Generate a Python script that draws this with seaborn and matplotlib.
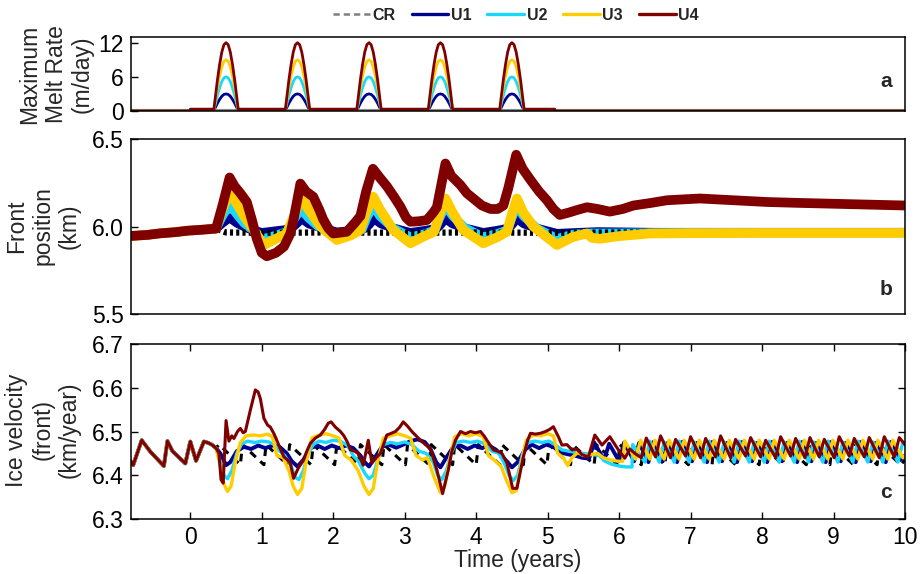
import matplotlib
matplotlib.use("Agg")
import matplotlib.pyplot as plt
from matplotlib.lines import Line2D
import seaborn as sns
import pandas as pd

sns.set_theme(style="white")
plt.rcParams['font.family'] = ['Liberation Sans', 'DejaVu Sans']

# ---------------- data ----------------
series_names = ["CR", "U1", "U2", "U3", "U4"]
series_colors = {"CR": "#808080", "U1": "#00008F", "U2": "#19D8FF", "U3": "#FFCC00", "U4": "#800000"}

# panel a: maximum melt rate (m/day)
hump_years = [0.5, 1.5, 2.5, 3.5, 4.5]
hump_offsets = [-0.17, -0.15, -0.12, -0.09, -0.06, -0.03, 0.0, 0.03, 0.06, 0.09, 0.12, 0.15, 0.17]
hump_shape = [0.0, 0.2, 0.46, 0.68, 0.86, 0.97, 1.0, 0.97, 0.86, 0.68, 0.46, 0.2, 0.0]
melt_peaks = {"U1": 3, "U2": 6, "U3": 9, "U4": 12}
melt_base_period = [0.0, 5.1]
melt_base_level = 0.3

# panel b: front position (km) -- shared spin-up then each run
b_pre = [(-0.83, 5.946), (-0.60, 5.952), (-0.42, 5.961), (-0.20, 5.968), (-0.04, 5.976), (0.15, 5.981), (0.36, 5.988)]
b_cr = [(0.5, 5.966), (1.0, 5.964), (2.0, 5.966), (3.0, 5.964), (4.0, 5.966), (5.0, 5.964), (6.0, 5.966), (10.0, 5.966)]
b_u1 = [(0.45, 6.02), (0.55, 6.05), (0.65, 6.02), (0.8, 5.99), (1.0, 5.965), (1.2, 5.975), (1.4, 5.985), (1.47, 6.01),
        (1.56, 6.045), (1.66, 6.015), (1.85, 5.99), (2.05, 5.968), (2.3, 5.978), (2.45, 5.99), (2.5, 6.01), (2.57, 6.045),
        (2.67, 6.015), (2.85, 5.99), (3.08, 5.965), (3.3, 5.978), (3.45, 5.99), (3.5, 6.01), (3.57, 6.045), (3.67, 6.015),
        (3.85, 5.99), (4.1, 5.965), (4.3, 5.978), (4.45, 5.99), (4.5, 6.01), (4.57, 6.045), (4.67, 6.015), (4.85, 5.99),
        (5.13, 5.96), (5.4, 5.965), (5.7, 5.97), (6.5, 5.966), (10.0, 5.966)]
b_u2 = [(0.45, 6.06), (0.55, 6.125), (0.65, 6.07), (0.75, 6.02), (0.9, 5.97), (1.03, 5.93), (1.2, 5.95), (1.35, 5.97),
        (1.45, 6.04), (1.55, 6.10), (1.65, 6.05), (1.82, 5.99), (2.05, 5.945), (2.25, 5.96), (2.4, 5.98), (2.47, 6.05),
        (2.56, 6.12), (2.65, 6.06), (2.84, 5.99), (3.08, 5.94), (3.3, 5.96), (3.42, 5.98), (3.49, 6.05), (3.57, 6.12),
        (3.67, 6.06), (3.85, 5.99), (4.1, 5.94), (4.3, 5.96), (4.44, 5.98), (4.5, 6.05), (4.57, 6.12), (4.66, 6.06),
        (4.85, 5.99), (5.13, 5.93), (5.35, 5.955), (5.6, 5.962), (6.0, 5.962), (7.0, 5.964), (10.0, 5.964)]
b_u3 = [(0.45, 6.10), (0.56, 6.20), (0.65, 6.13), (0.75, 6.06), (0.885, 5.98), (1.03, 5.894), (1.2, 5.93), (1.35, 5.96),
        (1.45, 6.06), (1.56, 6.17), (1.65, 6.10), (1.82, 6.00), (2.05, 5.923), (2.25, 5.95), (2.38, 5.98), (2.46, 6.08),
        (2.56, 6.17), (2.65, 6.10), (2.84, 5.98), (3.08, 5.904), (3.25, 5.94), (3.41, 5.97), (3.49, 6.07), (3.57, 6.16),
        (3.67, 6.08), (3.82, 5.98), (4.10, 5.904), (4.30, 5.94), (4.43, 5.97), (4.50, 6.07), (4.57, 6.16), (4.66, 6.08),
        (4.80, 6.00), (5.13, 5.894), (5.35, 5.94), (5.55, 5.96), (5.62, 5.935), (5.73, 5.93), (6.0, 5.945), (6.43, 5.96),
        (7.0, 5.962), (8.0, 5.963), (10.0, 5.963)]
b_u4 = [(0.45, 6.12), (0.55, 6.28), (0.62, 6.23), (0.70, 6.19), (0.79, 6.14), (0.86, 6.04), (0.93, 5.93), (1.00, 5.85),
        (1.07, 5.83), (1.20, 5.85), (1.31, 5.885), (1.40, 5.96), (1.445, 6.04), (1.54, 6.245), (1.62, 6.20), (1.72, 6.17),
        (1.80, 6.10), (1.86, 6.04), (1.93, 5.99), (2.00, 5.96), (2.10, 5.965), (2.19, 5.97), (2.30, 6.02), (2.38, 6.06),
        (2.46, 6.20), (2.555, 6.33), (2.65, 6.28), (2.75, 6.23), (2.85, 6.17), (2.94, 6.113), (3.02, 6.05), (3.08, 6.027),
        (3.20, 6.03), (3.31, 6.037), (3.40, 6.08), (3.45, 6.11), (3.57, 6.36), (3.65, 6.29), (3.78, 6.237), (3.87, 6.19),
        (3.96, 6.16), (4.08, 6.12), (4.20, 6.10), (4.30, 6.10), (4.38, 6.12), (4.45, 6.22), (4.56, 6.41), (4.65, 6.33),
        (4.76, 6.266), (4.88, 6.20), (4.99, 6.15), (5.08, 6.10), (5.17, 6.066), (5.30, 6.08), (5.41, 6.094), (5.55, 6.11),
        (5.70, 6.10), (5.87, 6.085), (6.05, 6.10), (6.20, 6.12), (6.45, 6.135), (6.67, 6.15), (6.90, 6.155), (7.13, 6.16),
        (7.60, 6.15), (8.07, 6.14), (8.50, 6.135), (9.00, 6.13), (9.50, 6.125), (10.0, 6.12)]

# panel c: ice velocity at the front (km/year)
c_pre = [(-0.83, 6.432), (-0.80, 6.423), (-0.68, 6.480), (-0.56, 6.454), (-0.37, 6.421), (-0.32, 6.478), (-0.25, 6.455),
         (-0.07, 6.427), (0.00, 6.477), (0.08, 6.433), (0.19, 6.477), (0.25, 6.474), (0.30, 6.470), (0.36, 6.462)]
c_cr = [(0.40, 6.47), (0.70, 6.424), (0.73, 6.47), (1.03, 6.424), (1.06, 6.47), (1.36, 6.424), (1.39, 6.47), (1.69, 6.424),
        (1.72, 6.47), (2.02, 6.424), (2.05, 6.47), (2.35, 6.424), (2.38, 6.47), (2.68, 6.424), (2.71, 6.47), (3.01, 6.424),
        (3.04, 6.47), (3.34, 6.424), (3.37, 6.47), (3.67, 6.424), (3.70, 6.47), (4.00, 6.424), (4.03, 6.47), (4.33, 6.424),
        (4.36, 6.47), (4.66, 6.424), (4.69, 6.47), (4.99, 6.424), (5.02, 6.47), (5.32, 6.424), (5.35, 6.47), (5.65, 6.424),
        (5.68, 6.47), (5.98, 6.424), (6.01, 6.47), (6.31, 6.424), (6.34, 6.47), (6.64, 6.424), (6.67, 6.47), (6.97, 6.424),
        (7.00, 6.47), (7.30, 6.424), (7.33, 6.47), (7.63, 6.424), (7.66, 6.47), (7.96, 6.424), (7.99, 6.47), (8.29, 6.424),
        (8.32, 6.47), (8.62, 6.424), (8.65, 6.47), (8.95, 6.424), (8.98, 6.47), (9.28, 6.424), (9.31, 6.47), (9.61, 6.424),
        (9.64, 6.47), (9.94, 6.424), (10.0, 6.435)]
c_u1 = [(0.42, 6.45), (0.50, 6.423), (0.56, 6.43), (0.65, 6.455), (0.75, 6.465), (0.85, 6.46), (0.95, 6.468), (1.05, 6.462),
        (1.15, 6.468), (1.25, 6.465), (1.35, 6.45), (1.42, 6.432), (1.50, 6.42), (1.58, 6.435), (1.68, 6.462), (1.78, 6.468),
        (1.88, 6.46), (1.98, 6.468), (2.08, 6.462), (2.18, 6.468), (2.28, 6.462), (2.38, 6.445), (2.44, 6.43), (2.50, 6.42),
        (2.58, 6.44), (2.68, 6.465), (2.78, 6.47), (2.88, 6.463), (2.98, 6.47), (3.08, 6.478), (3.18, 6.482), (3.28, 6.476),
        (3.36, 6.46), (3.44, 6.43), (3.50, 6.418), (3.58, 6.44), (3.68, 6.465), (3.78, 6.468), (3.88, 6.46), (3.98, 6.468),
        (4.08, 6.462), (4.18, 6.468), (4.28, 6.458), (4.38, 6.44), (4.44, 6.43), (4.50, 6.418), (4.58, 6.43), (4.68, 6.458),
        (4.78, 6.47), (4.88, 6.462), (4.98, 6.47), (5.08, 6.465), (5.18, 6.452), (5.28, 6.448), (5.38, 6.445), (5.48, 6.44),
        (5.58, 6.438), (5.65, 6.475), (5.79, 6.435), (5.86, 6.472), (6.00, 6.432), (6.07, 6.475), (6.21, 6.432), (6.28, 6.474),
        (6.41, 6.43), (6.48, 6.476), (6.61, 6.432), (6.68, 6.474), (6.81, 6.43), (6.88, 6.476), (7.02, 6.432), (7.09, 6.474),
        (7.23, 6.43), (7.30, 6.476), (7.44, 6.432), (7.51, 6.474), (7.65, 6.43), (7.72, 6.476), (7.86, 6.432), (7.93, 6.474),
        (8.07, 6.43), (8.14, 6.476), (8.28, 6.432), (8.35, 6.474), (8.49, 6.43), (8.56, 6.476), (8.69, 6.432), (8.76, 6.474),
        (8.89, 6.43), (8.96, 6.476), (9.10, 6.432), (9.17, 6.474), (9.31, 6.43), (9.38, 6.476), (9.52, 6.432), (9.59, 6.474),
        (9.73, 6.43), (9.80, 6.476), (9.94, 6.435), (10.0, 6.445)]
c_u2 = [(0.42, 6.43), (0.47, 6.40), (0.52, 6.392), (0.58, 6.41), (0.65, 6.45), (0.72, 6.472), (0.80, 6.478), (0.90, 6.475),
        (1.00, 6.478), (1.10, 6.476), (1.18, 6.47), (1.25, 6.455), (1.32, 6.445), (1.40, 6.425), (1.47, 6.395), (1.52, 6.39),
        (1.58, 6.41), (1.65, 6.45), (1.72, 6.47), (1.80, 6.478), (1.90, 6.475), (2.00, 6.48), (2.10, 6.478), (2.20, 6.468),
        (2.28, 6.445), (2.36, 6.43), (2.44, 6.405), (2.50, 6.392), (2.56, 6.40), (2.63, 6.44), (2.70, 6.47), (2.80, 6.475),
        (2.90, 6.472), (3.00, 6.476), (3.10, 6.47), (3.20, 6.455), (3.30, 6.45), (3.40, 6.43), (3.46, 6.40), (3.52, 6.39),
        (3.58, 6.41), (3.65, 6.45), (3.72, 6.475), (3.82, 6.478), (3.92, 6.475), (4.02, 6.478), (4.12, 6.472), (4.22, 6.455),
        (4.32, 6.45), (4.40, 6.425), (4.46, 6.40), (4.52, 6.388), (4.58, 6.40), (4.65, 6.45), (4.72, 6.475), (4.82, 6.478),
        (4.92, 6.475), (5.02, 6.478), (5.10, 6.47), (5.20, 6.458), (5.30, 6.455), (5.40, 6.452), (5.50, 6.45), (5.60, 6.448),
        (5.72, 6.445), (5.80, 6.432), (5.90, 6.425), (6.00, 6.421), (6.10, 6.419), (6.18, 6.419), (6.19, 6.47), (6.36, 6.43),
        (6.43, 6.478), (6.56, 6.43), (6.63, 6.476), (6.77, 6.43), (6.84, 6.478), (6.98, 6.43), (7.05, 6.476), (7.19, 6.43),
        (7.26, 6.478), (7.40, 6.43), (7.47, 6.476), (7.61, 6.43), (7.68, 6.478), (7.82, 6.43), (7.89, 6.476), (8.03, 6.43),
        (8.10, 6.478), (8.24, 6.43), (8.31, 6.476), (8.45, 6.43), (8.52, 6.478), (8.65, 6.43), (8.72, 6.476), (8.85, 6.43),
        (8.92, 6.478), (9.06, 6.43), (9.13, 6.476), (9.27, 6.43), (9.34, 6.478), (9.48, 6.43), (9.55, 6.476), (9.69, 6.43),
        (9.76, 6.478), (9.90, 6.43), (9.97, 6.476), (10.0, 6.47)]
c_u3 = [(0.42, 6.42), (0.47, 6.38), (0.52, 6.363), (0.57, 6.375), (0.63, 6.43), (0.70, 6.475), (0.78, 6.49), (0.88, 6.492),
        (0.98, 6.49), (1.08, 6.494), (1.15, 6.488), (1.21, 6.445), (1.30, 6.44), (1.38, 6.41), (1.44, 6.375), (1.50, 6.356),
        (1.56, 6.37), (1.62, 6.43), (1.70, 6.485), (1.80, 6.492), (1.90, 6.495), (2.00, 6.49), (2.08, 6.485), (2.16, 6.445),
        (2.25, 6.435), (2.35, 6.41), (2.43, 6.375), (2.50, 6.356), (2.56, 6.37), (2.62, 6.43), (2.70, 6.485), (2.80, 6.49),
        (2.90, 6.495), (3.00, 6.49), (3.08, 6.485), (3.16, 6.445), (3.25, 6.435), (3.32, 6.44), (3.40, 6.40), (3.45, 6.38),
        (3.50, 6.36), (3.56, 6.375), (3.62, 6.43), (3.70, 6.488), (3.80, 6.495), (3.90, 6.49), (4.00, 6.495), (4.10, 6.488),
        (4.17, 6.445), (4.25, 6.435), (4.35, 6.42), (4.42, 6.39), (4.50, 6.36), (4.56, 6.365), (4.62, 6.42), (4.70, 6.48),
        (4.80, 6.492), (4.90, 6.49), (5.00, 6.495), (5.08, 6.49), (5.14, 6.45), (5.22, 6.44), (5.28, 6.422), (5.34, 6.44),
        (5.42, 6.452), (5.50, 6.445), (5.60, 6.447), (5.70, 6.45), (5.78, 6.44), (5.88, 6.435), (5.98, 6.432), (6.05, 6.432),
        (6.08, 6.478), (6.23, 6.437), (6.30, 6.48), (6.43, 6.437), (6.50, 6.48), (6.63, 6.437), (6.70, 6.48), (6.84, 6.437),
        (6.91, 6.48), (7.05, 6.437), (7.12, 6.48), (7.26, 6.437), (7.33, 6.48), (7.47, 6.437), (7.54, 6.48), (7.68, 6.437),
        (7.75, 6.48), (7.89, 6.437), (7.96, 6.48), (8.10, 6.437), (8.17, 6.48), (8.31, 6.437), (8.38, 6.48), (8.52, 6.437),
        (8.59, 6.48), (8.72, 6.437), (8.79, 6.48), (8.92, 6.437), (8.99, 6.48), (9.13, 6.437), (9.20, 6.48), (9.34, 6.437),
        (9.41, 6.48), (9.55, 6.437), (9.62, 6.48), (9.76, 6.437), (9.83, 6.48), (9.97, 6.44), (10.0, 6.445)]
c_u4 = [(0.40, 6.45), (0.43, 6.39), (0.46, 6.382), (0.50, 6.525), (0.54, 6.478), (0.58, 6.49), (0.61, 6.484), (0.66, 6.50),
        (0.70, 6.507), (0.74, 6.497), (0.77, 6.50), (0.84, 6.549), (0.91, 6.595), (0.95, 6.59), (0.98, 6.575), (1.03, 6.53),
        (1.08, 6.515), (1.12, 6.51), (1.17, 6.495), (1.21, 6.48), (1.26, 6.46), (1.31, 6.442), (1.36, 6.435), (1.40, 6.427),
        (1.445, 6.393), (1.51, 6.416), (1.585, 6.435), (1.63, 6.455), (1.68, 6.473), (1.75, 6.485), (1.82, 6.492), (1.88, 6.505),
        (1.93, 6.519), (1.97, 6.522), (2.03, 6.51), (2.10, 6.50), (2.15, 6.49), (2.20, 6.475), (2.24, 6.458), (2.30, 6.455),
        (2.35, 6.45), (2.42, 6.423), (2.49, 6.48), (2.54, 6.428), (2.60, 6.44), (2.66, 6.45), (2.75, 6.492), (2.80, 6.495),
        (2.87, 6.50), (2.93, 6.51), (2.98, 6.522), (3.04, 6.512), (3.10, 6.50), (3.16, 6.49), (3.22, 6.48), (3.29, 6.47),
        (3.36, 6.461), (3.45, 6.412), (3.53, 6.358), (3.61, 6.412), (3.66, 6.455), (3.71, 6.48), (3.78, 6.50), (3.85, 6.495),
        (3.92, 6.50), (3.99, 6.497), (4.06, 6.50), (4.11, 6.49), (4.15, 6.48), (4.24, 6.458), (4.30, 6.455), (4.36, 6.45),
        (4.43, 6.428), (4.51, 6.37), (4.57, 6.37), (4.66, 6.442), (4.72, 6.48), (4.76, 6.496), (4.83, 6.494), (4.90, 6.496),
        (4.97, 6.50), (5.03, 6.505), (5.08, 6.511), (5.15, 6.488), (5.20, 6.469), (5.27, 6.47), (5.34, 6.458), (5.41, 6.46),
        (5.48, 6.447), (5.57, 6.442), (5.66, 6.492), (5.76, 6.469), (5.87, 6.488), (5.99, 6.458), (6.08, 6.439), (6.15, 6.46),
        (6.22, 6.45), (6.31, 6.44), (6.38, 6.485), (6.51, 6.442), (6.58, 6.49), (6.72, 6.44), (6.79, 6.482), (6.93, 6.444),
        (7.00, 6.488), (7.14, 6.44), (7.21, 6.484), (7.35, 6.442), (7.42, 6.49), (7.56, 6.44), (7.63, 6.482), (7.77, 6.444),
        (7.84, 6.486), (7.98, 6.442), (8.05, 6.48), (8.19, 6.44), (8.26, 6.488), (8.40, 6.444), (8.47, 6.484), (8.60, 6.44),
        (8.67, 6.486), (8.80, 6.442), (8.87, 6.482), (9.01, 6.44), (9.08, 6.488), (9.22, 6.444), (9.29, 6.484), (9.43, 6.442),
        (9.50, 6.486), (9.64, 6.44), (9.71, 6.488), (9.85, 6.442), (9.92, 6.486), (10.0, 6.47)]

x_ticks = list(range(0, 11))
a_ticks = [0, 6, 12]
b_ticks = [5.5, 6.0, 6.5]
c_ticks = [6.3, 6.4, 6.5, 6.6, 6.7]
x_limits = (-0.83, 10.0)

# ---------------- build tables ----------------
def melt_table(name):
    pts = [(x_limits[0], 0.0), (melt_base_period[0], 0.0), (melt_base_period[0], melt_base_level)]
    for yr in hump_years:
        for off, sh in zip(hump_offsets, hump_shape):
            pts.append((yr + off, max(melt_base_level, melt_peaks[name] * sh)))
    pts += [(melt_base_period[1], melt_base_level), (melt_base_period[1], 0.0), (x_limits[1], 0.0)]
    return pd.DataFrame(pts, columns=["t", "v"])

def table(pre, own):
    return pd.DataFrame(pre + own, columns=["t", "v"])

FS = 16.5
fig = plt.figure(figsize=(9.21, 5.74), dpi=100)
W, H = 921.0, 574.0
L, R = 131.0, 905.0
def add_ax(top, bottom):
    return fig.add_axes([L / W, 1 - bottom / H, (R - L) / W, (bottom - top) / H])
axa = add_ax(37, 111)
axb = add_ax(139, 314)
axc = add_ax(344, 519)

def draw(ax, df, color, lw, ls="-"):
    sns.lineplot(data=df, x="t", y="v", ax=ax, color=color, linewidth=lw, linestyle=ls,
                 estimator=None, sort=False, legend=False)

# panel a
cr_a = pd.DataFrame([(x_limits[0], 0.0), (x_limits[1], 0.0)], columns=["t", "v"])
draw(axa, cr_a, "#8c8c8c", 3.0)
for name in ["U1", "U2", "U3", "U4"]:
    draw(axa, melt_table(name), series_colors[name], 2.0)

# panel b
draw(axb, table(b_pre, b_u1), series_colors["U1"], 6.5)
draw(axb, table(b_pre, b_u2), series_colors["U2"], 6.5)
draw(axb, table(b_pre, b_cr), "black", 4.5, (0, (0.5, 0.5)))
draw(axb, table(b_pre, b_u3), series_colors["U3"], 7.0)
draw(axb, table(b_pre, b_u4), series_colors["U4"], 7.0)

# panel c
draw(axc, table(c_pre, c_cr), "black", 2.2, (0, (2.5, 2.0)))
draw(axc, table(c_pre, c_u1), series_colors["U1"], 2.8)
draw(axc, table(c_pre, c_u2), series_colors["U2"], 2.4)
draw(axc, table(c_pre, c_u3), series_colors["U3"], 2.4)
draw(axc, table(c_pre, c_u4), series_colors["U4"], 2.2)

# axes styling
for ax in (axa, axb, axc):
    ax.set_xlim(*x_limits)
    ax.set_xlabel("")
    ax.set_ylabel("")
    for s in ax.spines.values():
        s.set_color("black")
        s.set_linewidth(1.1)
    ax.tick_params(direction="in", length=5, width=1.0, color="black", labelsize=FS, pad=5,
                   labelcolor="black")

axa.set_ylim(0, 13)
axa.set_yticks(a_ticks)
axa.set_yticklabels([str(v) for v in a_ticks])
axa.set_xticks([])
axa.tick_params(axis="y", left=True, right=False)

axb.set_ylim(5.5, 6.5)
axb.set_yticks(b_ticks)
axb.set_yticklabels([f"{v:.1f}" for v in b_ticks])
axb.set_xticks([])
axb.tick_params(axis="y", left=True, right=False)

axc.set_ylim(6.3, 6.7)
axc.set_yticks(c_ticks)
axc.set_yticklabels([f"{v:.1f}" for v in c_ticks])
axc.set_xticks(x_ticks)
axc.set_xticklabels([str(v) for v in x_ticks])
axc.tick_params(axis="x", bottom=True, top=True)
axc.tick_params(axis="y", left=True, right=True)

# axis titles
fig.text(518 / W, 1 - 560 / H, "Time (years)", ha="center", va="center", fontsize=FS)
ylab_kw = dict(rotation=90, ha="center", va="center", multialignment="center", fontsize=FS, linespacing=1.18)
fig.text(56 / W, 1 - 74 / H, "Maximum\nMelt Rate\n(m/day)", **ylab_kw)
fig.text(43 / W, 1 - 226 / H, "Front\nposition\n(km)", **ylab_kw)
fig.text(43 / W, 1 - 430 / H, "Ice velocity\n(front)\n(km/year)", **ylab_kw)

# panel letters
for ax, letter, yy in ((axa, "a", 0.40), (axb, "b", 0.141), (axc, "c", 0.149)):
    ax.text(0.976, yy, letter, transform=ax.transAxes, ha="center", va="center",
            fontsize=15, fontweight="bold")

# legend
handles = [Line2D([], [], color=series_colors["CR"], lw=1.8, ls=(0, (2.5, 1.6)))]
handles += [Line2D([], [], color=series_colors[n], lw=2.4) for n in ["U1", "U2", "U3", "U4"]]
fig.legend(handles, series_names, loc="center", bbox_to_anchor=(516 / W, 1 - 15 / H), ncol=5,
           frameon=False, handlelength=2.3, handletextpad=0.15, columnspacing=1.0,
           prop={"weight": "bold", "size": 11.5})

fig.savefig("out.png", dpi=100)
